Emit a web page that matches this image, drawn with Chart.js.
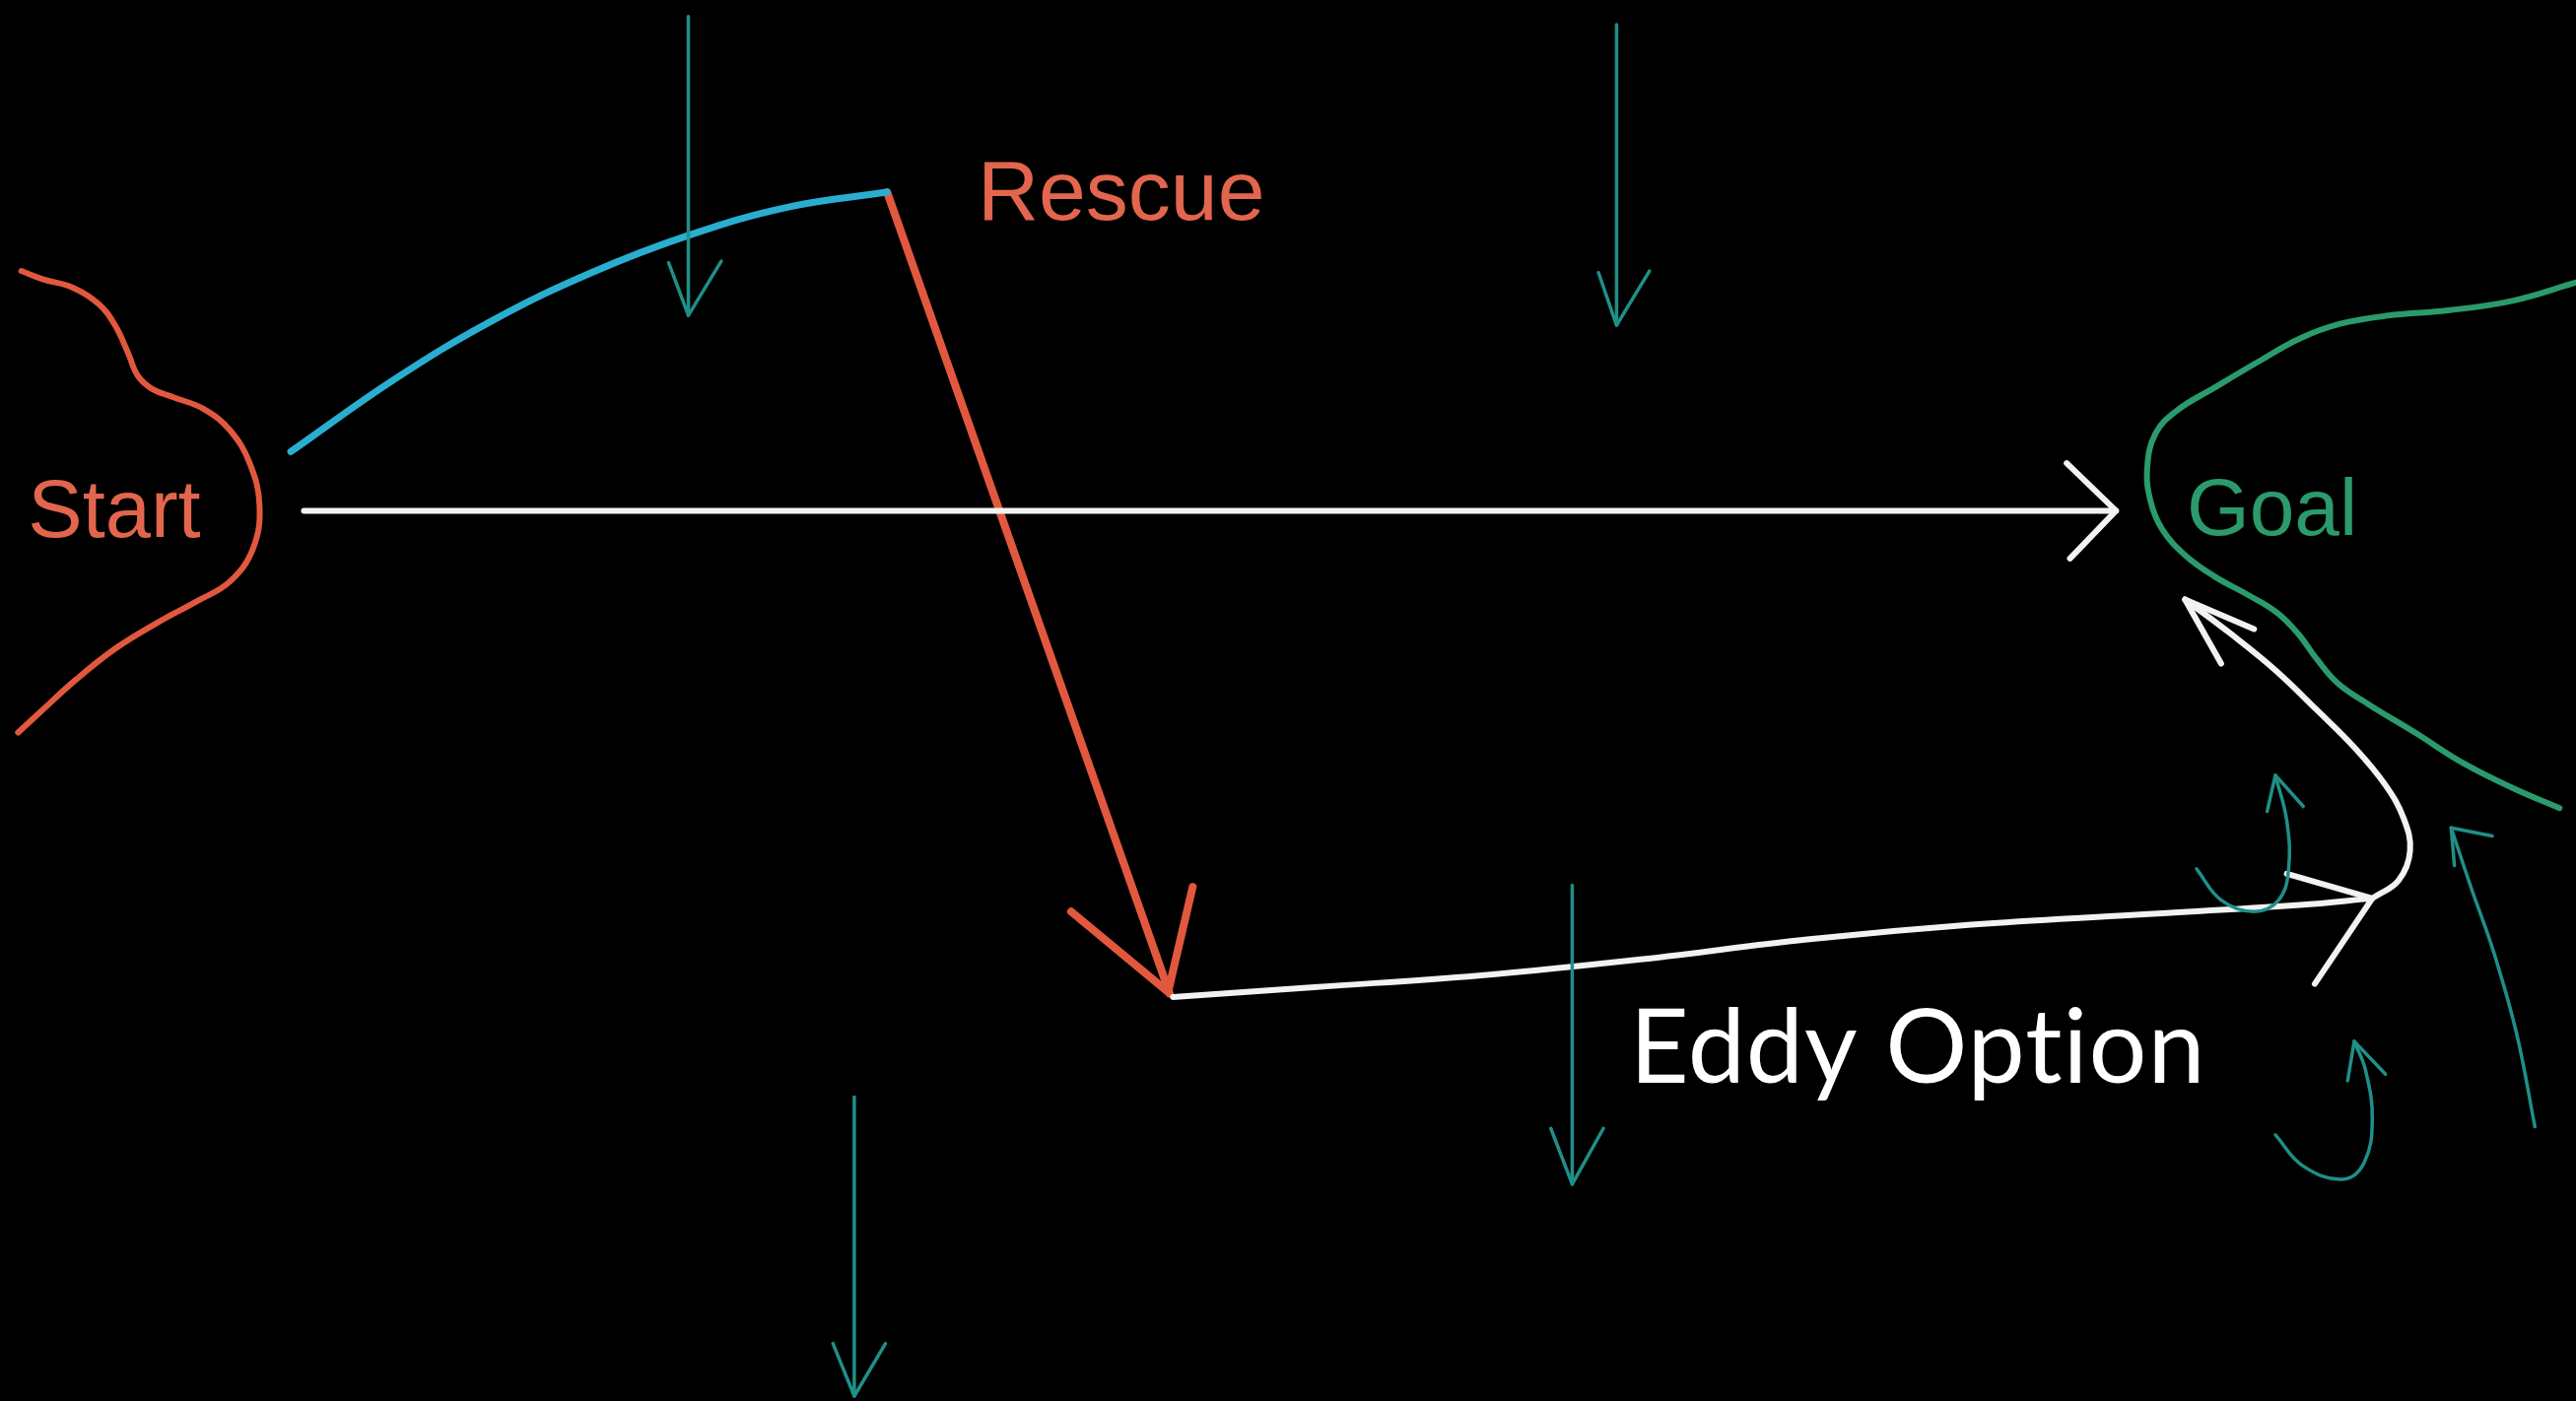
<!DOCTYPE html>
<html>
<head>
<meta charset="utf-8">
<script src="https://cdn.jsdelivr.net/npm/chart.js@4/dist/chart.umd.min.js"></script>
<style>
  html, body { margin: 0; padding: 0; background: #000; overflow: hidden; }
  canvas { display: block; }
</style>
</head>
<body>
<canvas id="sketch" width="2614" height="1422"></canvas>
<script>
// board units are 1568 x 853, y grows downward

// coastlines
const startCoast = [[13,165],[26,170],[44,175],[60,185],[70,198],[78,215],[84,229],[93,237],[106,242],[124,249],[140,262],[152,282],[158,308],[154,334],[140,354],[120,366],[96,379],[70,395],[46,414],[24,434],[11,446]];
const goalCoast = [[1568,172],[1530,183],[1490,189],[1455,192],[1425,197],[1400,206],[1375,220],[1348,236],[1325,250],[1312,264],[1307,285],[1309,305],[1316,322],[1330,338],[1348,351],[1368,362],[1386,373],[1399,386],[1410,401],[1423,416],[1442,429],[1470,446],[1500,465],[1530,480],[1558,492]];

// routes
const rescueArc = [[177,275],[240,231],[300,195],[360,166],[420,143],[480,126],[540,117]];
const rescueDrop = [[540,117],[712,605]];
const rescueHead = [[652,555],[711,604],[726,540]];
const directLine = [[185,311],[1288,311]];
const directHead = [[1258,282],[1288,311],[1260,340]];
const eddyLine = [[714,607],[800,601],[900,594],[1000,584],[1100,572],[1200,563],[1300,557],[1400,551],[1444,547]];
const eddyHead = [[1392,532],[1444,547],[1409,599]];
const eddyReturn = [[1444,547],[1460,536],[1467,518],[1463,498],[1452,478],[1434,456],[1410,432],[1385,408],[1358,386],[1330,365]];
const returnHead = [[1372,383],[1330,365],[1352,404]];

// current arrows
const current1 = [[419,10],[419,192]];
const current1Head = [[407,160],[419,192],[439,159]];
const current2 = [[984,15],[984,198]];
const current2Head = [[973,166],[984,198],[1004,165]];
const current3 = [[957,539],[957,721]];
const current3Head = [[944,687],[957,721],[976,687]];
const current4 = [[520,668],[520,850]];
const current4Head = [[507,818],[520,850],[539,818]];
const swirl1 = [[1337,529],[1352,548],[1372,555],[1387,548],[1393,530],[1392,500],[1385,472]];
const swirl1Head = [[1380,494],[1385,472],[1402,491]];
const swirl2 = [[1385,691],[1402,710],[1426,718],[1439,708],[1444,682],[1440,652],[1433,634]];
const swirl2Head = [[1429,658],[1433,634],[1452,654]];
const backflow = [[1543,686],[1532,630],[1518,580],[1504,540],[1492,504]];
const backflowHead = [[1494,527],[1492,504],[1517,509]];

// labels
const labelText = ['Start', 'Rescue', 'Goal', 'Eddy Option'];
const labelX = [17, 595, 1331, 992];
const labelY = [327, 134, 326, 659];

const RED = '#e2583f';
const BLUE = '#2aaed0';
const TEAL = '#1f8f88';
const GREEN = '#2b9a6c';
const WHITE = '#f2f2f2';

function stroke(pts, color, width, tension) {
    return {
        data: pts.map(p => ({ x: p[0], y: p[1] })),
        showLine: true,
        borderColor: color,
        borderWidth: width,
        tension: tension || 0,
        pointRadius: 0,
        borderCapStyle: 'round',
        borderJoinStyle: 'round',
        clip: false
    };
}

const labelFonts = [
    { font: '83px "Liberation Sans", Arial, sans-serif', color: '#e2664d', spacing: '0px' },
    { font: '86px "Liberation Sans", Arial, sans-serif', color: '#e2664d', spacing: '0px' },
    { font: '82px "Liberation Sans", Arial, sans-serif', color: '#2b9a6c', spacing: '0px' },
    // small spacing stops Lato from joining "ti"
    { font: '104px Lato, "Open Sans", sans-serif', color: '#ffffff', spacing: '1px' }
];

const boardPlugin = {
    id: 'board',
    beforeDraw(chart) {
        const ctx = chart.ctx;
        ctx.save();
        ctx.fillStyle = '#000';
        ctx.fillRect(0, 0, chart.width, chart.height);
        ctx.restore();
    },
    afterDatasetsDraw(chart) {
        const ctx = chart.ctx;
        const xs = chart.scales.x, ys = chart.scales.y;
        ctx.save();
        ctx.textAlign = 'left';
        ctx.textBaseline = 'alphabetic';
        labelText.forEach((t, i) => {
            ctx.font = labelFonts[i].font;
            ctx.letterSpacing = labelFonts[i].spacing;
            ctx.fillStyle = labelFonts[i].color;
            ctx.fillText(t, xs.getPixelForValue(labelX[i]), ys.getPixelForValue(labelY[i]));
        });
        ctx.restore();
    }
};

new Chart(document.getElementById('sketch'), {
    type: 'scatter',
    data: {
        datasets: [
            stroke(startCoast, RED, 6, 0.4),
            stroke(goalCoast, GREEN, 6, 0.4),
            stroke(current1, TEAL, 3.5),
            stroke(current1Head, TEAL, 3.5),
            stroke(current2, TEAL, 3.5),
            stroke(current2Head, TEAL, 3.5),
            stroke(current3, TEAL, 3.5),
            stroke(current3Head, TEAL, 3.5),
            stroke(current4, TEAL, 3.5),
            stroke(current4Head, TEAL, 3.5),
            stroke(swirl1, TEAL, 3.5, 0.4),
            stroke(swirl1Head, TEAL, 3.5),
            stroke(swirl2, TEAL, 3.5, 0.4),
            stroke(swirl2Head, TEAL, 3.5),
            stroke(backflow, TEAL, 3.5, 0.4),
            stroke(backflowHead, TEAL, 3.5),
            stroke(rescueArc, BLUE, 7, 0.4),
            stroke(directLine, WHITE, 6),
            stroke(directHead, WHITE, 6),
            stroke(eddyLine, WHITE, 6, 0.4),
            stroke(eddyHead, WHITE, 6),
            stroke(eddyReturn, WHITE, 6, 0.4),
            stroke(returnHead, WHITE, 6),
            stroke(rescueDrop, RED, 8),
            stroke(rescueHead, RED, 8)
        ]
    },
    options: {
        responsive: false,
        animation: false,
        events: [],
        layout: { padding: 0 },
        plugins: { legend: { display: false }, tooltip: { enabled: false } },
        scales: {
            x: { type: 'linear', display: false, min: 0, max: 1568 },
            y: { type: 'linear', display: false, min: 0, max: 853, reverse: true }
        }
    },
    plugins: [boardPlugin]
});
</script>
</body>
</html>
